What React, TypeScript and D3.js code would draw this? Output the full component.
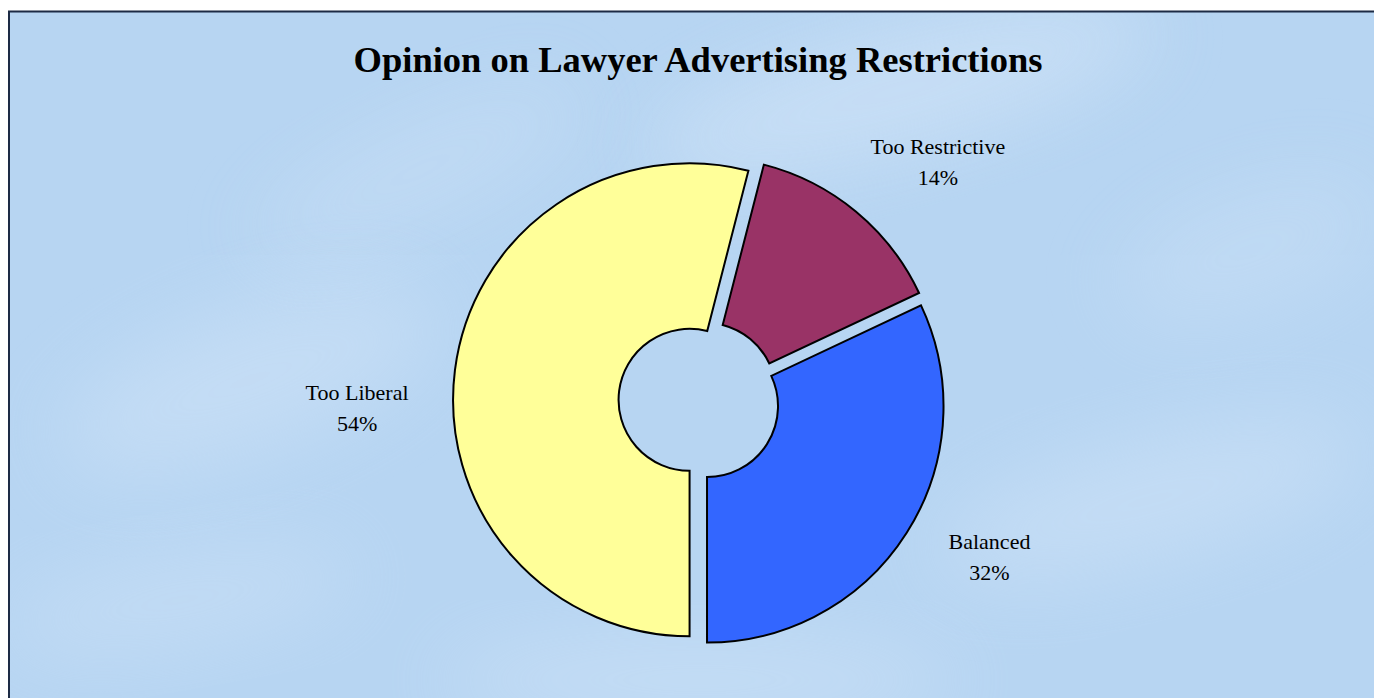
import React from "react";
import * as d3 from "d3";

const categories = ["Too Liberal", "Too Restrictive", "Balanced"];
const values = [54, 14, 32];
const colors = ["#FFFF99", "#993366", "#3366FF"];
const titleText = "Opinion on Lawyer Advertising Restrictions";

// label placement (angle in degrees clockwise from 12 o'clock, distance from centre)
const labelAngles = [269.1, 44.8, 118];
const labelDist = [342, 339, 329];

const W = 1374;
const H = 698;
const cx = 699;
const cy = 401;
const outerR = 236.5;
const innerR = 71;
const explode = 9.5;

export default function App() {
  const pie = d3
    .pie<number>()
    .sort(null)
    .value((d) => d)
    .startAngle(Math.PI)
    .endAngle(3 * Math.PI);
  const arcs = pie(values);
  const arcGen = d3.arc<d3.PieArcDatum<number>>().innerRadius(innerR).outerRadius(outerR);
  const total = d3.sum(values);
  const fmt = d3.format(".0%");

  const blobs = [
    { x: 900, y: 90, rx: 260, ry: 60, rot: -15, o: 0.45 },
    { x: 250, y: 380, rx: 200, ry: 70, rot: -20, o: 0.35 },
    { x: 1150, y: 500, rx: 220, ry: 60, rot: -15, o: 0.35 },
    { x: 700, y: 680, rx: 260, ry: 40, rot: 0, o: 0.4 },
    { x: 420, y: 170, rx: 180, ry: 50, rot: -25, o: 0.25 },
    { x: 1250, y: 250, rx: 140, ry: 60, rot: -20, o: 0.25 },
    { x: 180, y: 600, rx: 180, ry: 45, rot: -10, o: 0.3 },
  ];

  return (
    <svg
      width={W}
      height={H}
      style={{ position: "fixed", left: 0, top: 0, background: "#ffffff" }}
    >
      <defs>
        <filter id="blur" x="-50%" y="-50%" width="200%" height="200%">
          <feGaussianBlur stdDeviation="40" />
        </filter>
        <clipPath id="frame">
          <rect x={9} y={11.5} width={W} height={H} />
        </clipPath>
      </defs>
      <g clipPath="url(#frame)">
        <rect x={9} y={11.5} width={W} height={H} fill="#b7d5f2" />
        {blobs.map((b, i) => (
          <ellipse
            key={i}
            cx={b.x}
            cy={b.y}
            rx={b.rx}
            ry={b.ry}
            transform={`rotate(${b.rot} ${b.x} ${b.y})`}
            fill="#dbeafa"
            opacity={b.o}
            filter="url(#blur)"
          />
        ))}
      </g>
      <rect
        x={9}
        y={11.5}
        width={W + 20}
        height={H + 20}
        fill="none"
        stroke="#1d2b45"
        strokeWidth={2}
      />
      <text
        x={698}
        y={72}
        textAnchor="middle"
        fontFamily="'Liberation Serif', 'Times New Roman', serif"
        fontWeight="bold"
        fontSize={36.5}
        fill="#000"
      >
        {titleText}
      </text>
      <g transform={`translate(${cx},${cy})`}>
        {arcs.map((a, i) => {
          const mid = (a.startAngle + a.endAngle) / 2;
          const dx = Math.sin(mid) * explode;
          const dy = -Math.cos(mid) * explode;
          return (
            <path
              key={categories[i]}
              d={arcGen(a) || ""}
              transform={`translate(${dx},${dy})`}
              fill={colors[i]}
              stroke="#000"
              strokeWidth={2}
              strokeLinejoin="miter"
            />
          );
        })}
        {arcs.map((a, i) => {
          const ang = (labelAngles[i] * Math.PI) / 180;
          const lx = Math.sin(ang) * labelDist[i];
          const ly = -Math.cos(ang) * labelDist[i];
          return (
            <text
              key={"l" + i}
              x={lx}
              y={ly}
              textAnchor="middle"
              fontFamily="'Liberation Serif', 'Times New Roman', serif"
              fontSize={22}
              fill="#000"
            >
              <tspan x={lx} dy={-6}>
                {categories[i]}
              </tspan>
              <tspan x={lx} dy={31}>
                {fmt(values[i] / total)}
              </tspan>
            </text>
          );
        })}
      </g>
    </svg>
  );
}
